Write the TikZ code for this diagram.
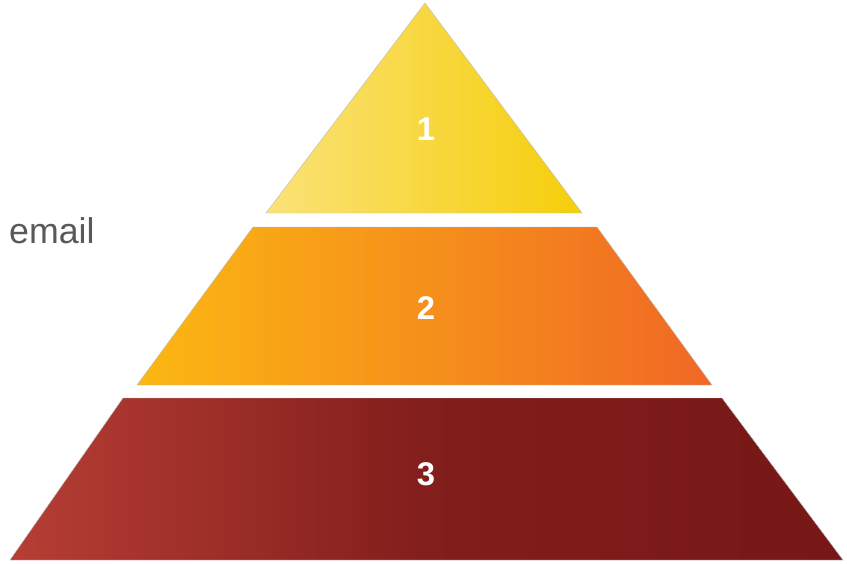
\documentclass[tikz,border=0pt]{standalone}
\usepackage{fontspec}
\setmainfont{Liberation Sans}
\usetikzlibrary{calc}

\begin{document}
\begin{tikzpicture}[
  x=0.03cm, y=-0.03cm,
  tier/.style={draw=black!25, line width=0.4pt},
  num/.style={font=\fontsize{28}{32}\selectfont\bfseries, text=white},
  side/.style={font=\fontsize{30.5}{35}\selectfont, text=black!65, anchor=west}
]
\useasboundingbox (0,0) rectangle (847,563);

% === TIERS (top to bottom) ===
\shade[tier, left color={rgb,255:red,251;green,226;blue,120}, right color={rgb,255:red,245;green,206;blue,10}]
  (425,3) -- (582,213) -- (266,213) -- cycle;
\shade[tier, left color={rgb,255:red,251;green,184;blue,18}, right color={rgb,255:red,240;green,104;blue,36}]
  (253,227) -- (597,227) -- (712,385) -- (137,385) -- cycle;
\shade[tier, left color={rgb,255:red,182;green,62;blue,52}, right color={rgb,255:red,118;green,24;blue,22}, middle color={rgb,255:red,130;green,30;blue,28}]
  (123,398) -- (722,398) -- (843,560) -- (10,560) -- cycle;

% Tier labels
\node[num] (one)   at (426,129) {1};
\node[num] (two)   at (426,308) {2};
\node[num] (three) at (426,474) {3};

% Side text
\node[side] (mail) at (5,231) {email};

\end{tikzpicture}
\end{document}
